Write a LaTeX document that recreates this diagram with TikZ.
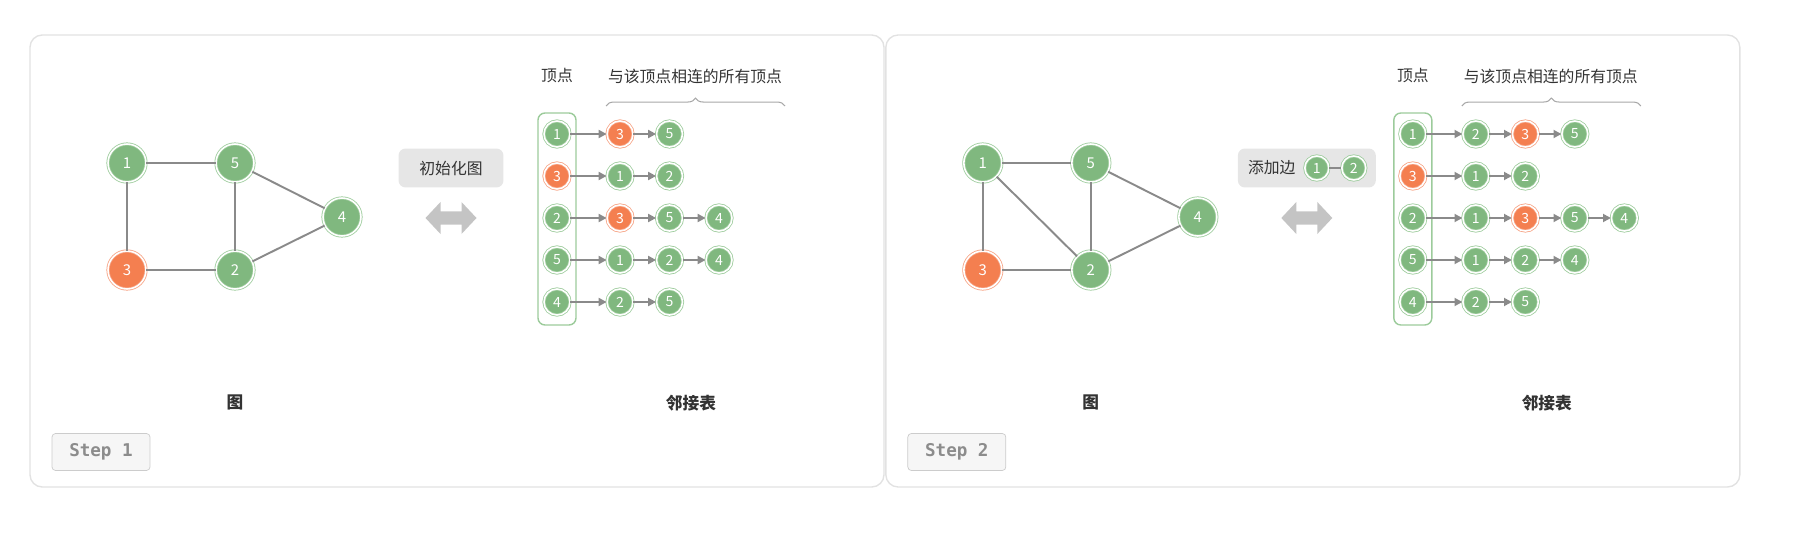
\documentclass[tikz,border=0pt]{standalone}
\usepackage{fontspec}
\setmainfont{Noto Sans CJK SC}
\setmonofont{DejaVu Sans Mono}
\usetikzlibrary{arrows.meta, positioning, calc, decorations.pathreplacing}
\definecolor{vgreen}{HTML}{80B87F}
\definecolor{vgreenring}{HTML}{9CCB9B}
\definecolor{vorange}{HTML}{F47F50}
\definecolor{vorangering}{HTML}{F6A283}
\definecolor{edgegray}{HTML}{8A8A8A}
\definecolor{panelline}{HTML}{E2E2E2}
\definecolor{btnfill}{HTML}{E6E6E6}
\definecolor{arrowgray}{HTML}{C4C4C4}
\definecolor{bracegray}{HTML}{A8A8A8}
\definecolor{txtdark}{HTML}{333333}
\definecolor{stepgray}{HTML}{8C8C8C}
\definecolor{stepline}{HTML}{CCCCCC}
\definecolor{stepfill}{HTML}{F6F6F6}

\begin{document}
\begin{tikzpicture}[x=0.02cm, y=-0.02cm,
  >={Triangle[length=4.5pt, width=4.5pt]},
  vert/.style={circle, fill=vgreen, draw=vgreenring, double=white,
    double distance=0.9pt, line width=0.45pt, inner sep=0pt,
    text=white, font=\fontsize{8.5}{8.5}\selectfont},
  big/.style={vert, minimum size=0.76cm},
  small/.style={vert, minimum size=0.52cm, font=\fontsize{8}{8}\selectfont},
  mini/.style={vert, minimum size=0.48cm, font=\fontsize{8}{8}\selectfont},
  hot/.style={fill=vorange, draw=vorangering},
  gedge/.style={edgegray, line width=1.1pt},
  lnk/.style={->, edgegray, line width=1.1pt},
  lbl/.style={text=txtdark, font=\fontsize{9}{9}\selectfont},
  title/.style={text=txtdark, font=\bfseries\fontsize{9.5}{9.5}\selectfont},
  btn/.style={fill=btnfill, rounded corners=4pt, minimum height=0.78cm},
  stepbox/.style={draw=stepline, fill=stepfill, rounded corners=2pt,
    minimum width=1.96cm, minimum height=0.74cm, text=stepgray,
    font=\ttfamily\bfseries\fontsize{10}{10}\selectfont},
  panel/.style={draw=panelline, line width=0.8pt, rounded corners=7pt},
  nbrace/.style={bracegray, line width=0.6pt, decorate,
    decoration={brace, amplitude=4.5pt}},
  vbox/.style={vgreenring, line width=0.8pt, rounded corners=4pt}
]
\useasboundingbox (0,0) rectangle (1800,554);

% ================= Step 1 =================
\draw[panel] (30,35) rectangle (884,487);

% Graph
\node[big] (a1) at (127,163) {1};
\node[big] (a5) at (235,163) {5};
\node[big] (a4) at (342,217) {4};
\node[big, hot] (a3) at (127,270) {3};
\node[big] (a2) at (235,270) {2};
\draw[gedge] (a1) -- (a5);
\draw[gedge] (a1) -- (a3);
\draw[gedge] (a3) -- (a2);
\draw[gedge] (a5) -- (a2);
\draw[gedge] (a5) -- (a4);
\draw[gedge] (a2) -- (a4);
\node[title] (agraph) at (235,402) {图};

% Operation
\node[btn, lbl, minimum width=2.1cm] (aop) at (451,168) {初始化图};
\fill[arrowgray] (425.5,218) -- ++(15,-16) -- ++(0,9.5) -- ++(21,0)
  -- ++(0,-9.5) -- ++(15,16) -- ++(-15,16) -- ++(0,-9.5) -- ++(-21,0)
  -- ++(0,9.5) -- cycle;

% Adjacency list
\node[lbl] (ahead) at (557,76) {顶点};
\node[lbl] (anbr) at (695,76) {与该顶点相连的所有顶点};
\draw[nbrace] (606,106) -- (785,106);
\draw[vbox] (538,113) rectangle (576,325);

\node[small] (aR1) at (557,134) {1};
\node[small, hot] (aR1a) at (620,134) {3};
\node[small] (aR1b) at (669.5,134) {5};

\node[small, hot] (aR2) at (557,176) {3};
\node[small] (aR2a) at (620,176) {1};
\node[small] (aR2b) at (669.5,176) {2};

\node[small] (aR3) at (557,218) {2};
\node[small, hot] (aR3a) at (620,218) {3};
\node[small] (aR3b) at (669.5,218) {5};
\node[small] (aR3c) at (719,218) {4};

\node[small] (aR4) at (557,260) {5};
\node[small] (aR4a) at (620,260) {1};
\node[small] (aR4b) at (669.5,260) {2};
\node[small] (aR4c) at (719,260) {4};

\node[small] (aR5) at (557,302) {4};
\node[small] (aR5a) at (620,302) {2};
\node[small] (aR5b) at (669.5,302) {5};

\foreach \s/\t in {aR1/aR1a, aR1a/aR1b, aR2/aR2a, aR2a/aR2b,
  aR3/aR3a, aR3a/aR3b, aR3b/aR3c, aR4/aR4a, aR4a/aR4b, aR4b/aR4c,
  aR5/aR5a, aR5a/aR5b}
  \draw[lnk] (\s) -- (\t);

\node[title] (alist) at (691,403) {邻接表};
\node[stepbox] (astep) at (101,452) {Step 1};

% ================= Step 2 =================
\begin{scope}[xshift=17.12cm]
\draw[panel] (30,35) rectangle (884,487);

% Graph
\node[big] (b1) at (127,163) {1};
\node[big] (b5) at (235,163) {5};
\node[big] (b4) at (342,217) {4};
\node[big, hot] (b3) at (127,270) {3};
\node[big] (b2) at (235,270) {2};
\draw[gedge] (b1) -- (b5);
\draw[gedge] (b1) -- (b3);
\draw[gedge] (b1) -- (b2);
\draw[gedge] (b3) -- (b2);
\draw[gedge] (b5) -- (b2);
\draw[gedge] (b5) -- (b4);
\draw[gedge] (b2) -- (b4);
\node[title] (bgraph) at (235,402) {图};

% Operation
\node[btn, minimum width=2.76cm] (bop) at (451,168) {};
\node[lbl] (boptxt) at (416,168) {添加边};
\node[mini] (bop1) at (461,168) {1};
\node[mini] (bop2) at (498,168) {2};
\draw[gedge] (bop1) -- (bop2);
\fill[arrowgray] (425.5,218) -- ++(15,-16) -- ++(0,9.5) -- ++(21,0)
  -- ++(0,-9.5) -- ++(15,16) -- ++(-15,16) -- ++(0,-9.5) -- ++(-21,0)
  -- ++(0,9.5) -- cycle;

% Adjacency list
\node[lbl] (bhead) at (557,76) {顶点};
\node[lbl] (bnbr) at (695,76) {与该顶点相连的所有顶点};
\draw[nbrace] (606,106) -- (785,106);
\draw[vbox] (538,113) rectangle (576,325);

\node[small] (bR1) at (557,134) {1};
\node[small] (bR1a) at (620,134) {2};
\node[small, hot] (bR1b) at (669.5,134) {3};
\node[small] (bR1c) at (719,134) {5};

\node[small, hot] (bR2) at (557,176) {3};
\node[small] (bR2a) at (620,176) {1};
\node[small] (bR2b) at (669.5,176) {2};

\node[small] (bR3) at (557,218) {2};
\node[small] (bR3a) at (620,218) {1};
\node[small, hot] (bR3b) at (669.5,218) {3};
\node[small] (bR3c) at (719,218) {5};
\node[small] (bR3d) at (768.5,218) {4};

\node[small] (bR4) at (557,260) {5};
\node[small] (bR4a) at (620,260) {1};
\node[small] (bR4b) at (669.5,260) {2};
\node[small] (bR4c) at (719,260) {4};

\node[small] (bR5) at (557,302) {4};
\node[small] (bR5a) at (620,302) {2};
\node[small] (bR5b) at (669.5,302) {5};

\foreach \s/\t in {bR1/bR1a, bR1a/bR1b, bR1b/bR1c, bR2/bR2a, bR2a/bR2b,
  bR3/bR3a, bR3a/bR3b, bR3b/bR3c, bR3c/bR3d, bR4/bR4a, bR4a/bR4b,
  bR4b/bR4c, bR5/bR5a, bR5a/bR5b}
  \draw[lnk] (\s) -- (\t);

\node[title] (blist) at (691,403) {邻接表};
\node[stepbox] (bstep) at (101,452) {Step 2};
\end{scope}

\end{tikzpicture}
\end{document}
